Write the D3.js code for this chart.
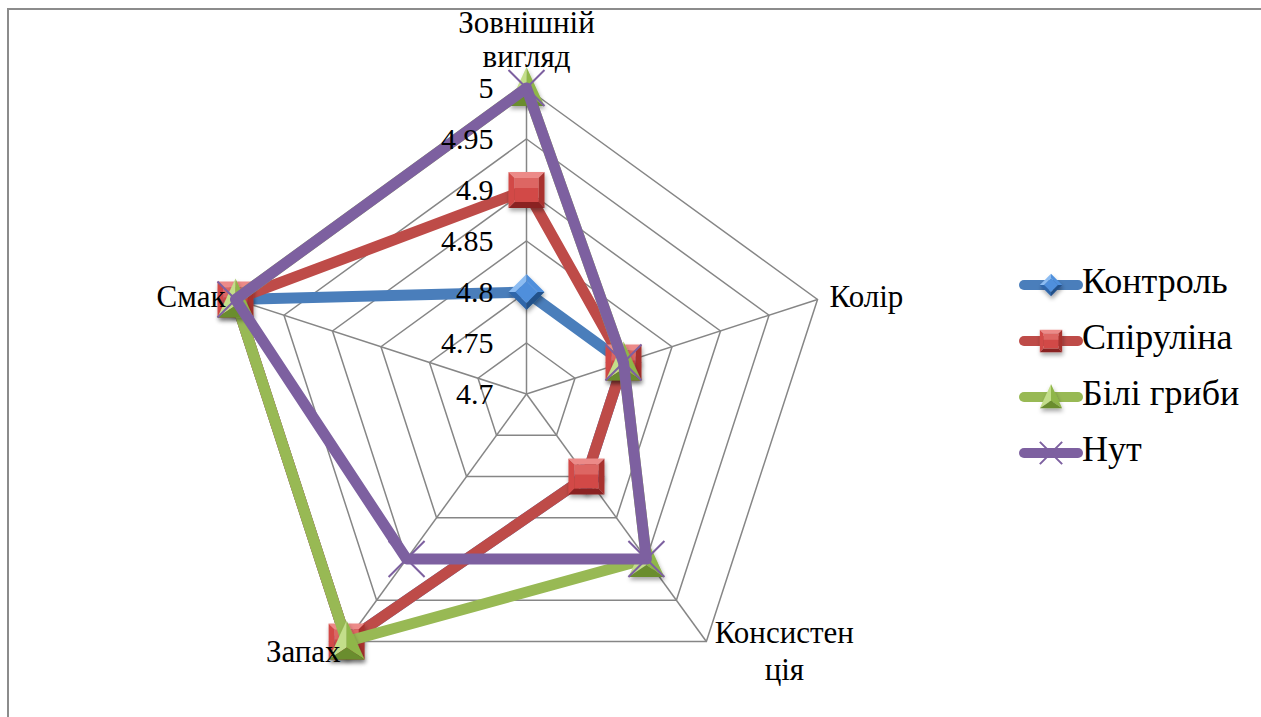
<!DOCTYPE html>
<html>
<head>
<meta charset="utf-8">
<script src="https://cdn.jsdelivr.net/npm/d3@7/dist/d3.min.js"></script>
<style>
  html, body { margin: 0; padding: 0; background: #fff; }
  svg { display: block; }
</style>
</head>
<body>
<svg id="chart" width="1261" height="717"></svg>
<script>
// Criteria (axes), clockwise from the top
const axes = [["Зовнішній", "вигляд"], ["Колір"], ["Консистен", "ція"], ["Запах"], ["Смак"]];
// Tick labels on the radial axis
const ticks = [4.7, 4.75, 4.8, 4.85, 4.9, 4.95, 5];
// Series names and their scores per criterion
const seriesNames = ["Контроль", "Спіруліна", "Білі гриби", "Нут"];
const control   = [4.8, 4.8, 4.8, 5, 5];
const spirulina = [4.9, 4.8, 4.8, 5, 5];
const mushrooms = [5, 4.8, 4.9, 5, 5];
const chickpea  = [5, 4.8, 4.9, 4.9, 5];

const seriesValues = [control, spirulina, mushrooms, chickpea];
const colors = ["#4a7ebb", "#be4b48", "#98b954", "#7d60a0"];
const shades = [
  { light: "#8cbcf2", mid: "#4f8fdc", dark: "#2e66aa", darker: "#22518a" },
  { light: "#ec8a88", mid: "#d24a47", dark: "#a8302e", darker: "#8a2422" },
  { light: "#c3de8a", mid: "#8fb64a", dark: "#6a8d2f", darker: "#557326" },
  { light: "#a58fc6", mid: "#7d60a0", dark: "#5e4680", darker: "#4a3666" }
];
const shapes = ["diamond", "square", "triangle", "cross"];
const FONT = "'Liberation Serif', 'Times New Roman', Tinos, 'DejaVu Serif', serif";

const svg = d3.select("#chart");
const cx = 526.5, cy = 394, R = 306;

const r = d3.scaleLinear().domain([4.7, 5]).range([0, R]);
const angle = d3.scaleLinear().domain([0, axes.length]).range([0, 2 * Math.PI]);
const pt = (i, v) => [cx + r(v) * Math.sin(angle(i)), cy - r(v) * Math.cos(angle(i))];

const defs = svg.append("defs");
const shadow = defs.append("filter").attr("id", "shadow")
  .attr("x", "-50%").attr("y", "-50%").attr("width", "200%").attr("height", "200%");
shadow.append("feDropShadow").attr("dx", 1).attr("dy", 3).attr("stdDeviation", 2)
  .attr("flood-color", "#000").attr("flood-opacity", 0.35);

// Frame
svg.append("path").attr("d", "M8,717V9H1261")
  .attr("fill", "none").attr("stroke", "#8c8c8c").attr("stroke-width", 2);

// Grid rings and spokes
const grid = svg.append("g").attr("stroke", "#868686").attr("stroke-width", 1.5).attr("fill", "none");
ticks.slice(1).forEach(t => {
  grid.append("path").attr("d", d3.line()(d3.range(axes.length).map(i => pt(i, t))) + "Z");
});
axes.forEach((a, i) => {
  grid.append("path").attr("d", d3.line()([pt(i, 4.7), pt(i, 5)]));
});

const textG = (parent, size) => parent.append("g").attr("font-family", FONT).attr("font-size", size).attr("fill", "#000");

// Bevelled marker shapes
function drawMarker(g, shape, sh, color, k) {
  const m = g.append("g");
  const poly = (pts, fill) => m.append("polygon")
    .attr("points", pts.map(q => q.map(v => v * k).join(",")).join(" ")).attr("fill", fill);
  if (shape === "square") {
    const s = 18, b = 6;
    m.attr("filter", "url(#shadow)");
    poly([[-s,-s],[s,-s],[s-b,-s+b],[-s+b,-s+b]], sh.light);
    poly([[-s,-s],[-s+b,-s+b],[-s+b,s-b],[-s,s]], sh.mid);
    poly([[s,-s],[s,s],[s-b,s-b],[s-b,-s+b]], sh.dark);
    poly([[-s,s],[-s+b,s-b],[s-b,s-b],[s,s]], sh.darker);
    poly([[-s+b,-s+b],[s-b,-s+b],[s-b,s-b],[-s+b,s-b]], sh.mid);
    poly([[-s+b,-s+b],[s-b,-s+b],[s-b,-2],[-s+b,-2]], sh.light).attr("opacity", 0.45);
  } else if (shape === "diamond") {
    const s = 18, b = 7;
    m.attr("filter", "url(#shadow)");
    poly([[0,-s],[-s,0],[-s+b,0],[0,-s+b]], sh.light);
    poly([[0,-s],[s,0],[s-b,0],[0,-s+b]], sh.mid);
    poly([[-s,0],[0,s],[0,s-b],[-s+b,0]], sh.dark);
    poly([[s,0],[0,s],[0,s-b],[s-b,0]], sh.darker);
    poly([[0,-s+b],[s-b,0],[0,s-b],[-s+b,0]], sh.mid);
  } else if (shape === "triangle") {
    m.attr("filter", "url(#shadow)");
    const A = [0,-21], B = [-18,18], C = [18,18], O = [0,6];
    poly([A,B,O], sh.light);
    poly([A,C,O], sh.mid);
    poly([B,C,O], sh.dark);
  } else {
    const s = 18;
    m.append("path").attr("d", `M${-s*k},${-s*k}L${s*k},${s*k}M${s*k},${-s*k}L${-s*k},${s*k}`)
      .attr("stroke", color).attr("stroke-width", 2).attr("fill", "none");
  }
  return m;
}

// Series: line then markers, drawn in order
seriesValues.forEach((vals, si) => {
  const g = svg.append("g");
  const pts = vals.map((v, i) => pt(i, v));
  g.append("path").attr("d", d3.line()(pts) + "Z")
    .attr("fill", "none").attr("stroke", colors[si]).attr("stroke-width", 11)
    .attr("stroke-linejoin", "round");
  pts.forEach(p => {
    drawMarker(g, shapes[si], shades[si], colors[si], 1)
      .attr("transform", `translate(${p[0]},${p[1]})`);
  });
});

// Radial tick labels, on top of the series
const fmt = d3.format("");
textG(svg, 30).selectAll("text").data(ticks).join("text")
  .attr("x", cx - 33)
  .attr("y", d => cy - r(d) + 10)
  .attr("text-anchor", "end")
  .text(d => fmt(d));

// Axis labels, on top of the series
const labelLayout = [
  { anchor: "middle", dx: 0, dy: [-55, -21] },
  { anchor: "start", dx: 12, dy: [8] },
  { anchor: "middle", dx: 78, dy: [1, 38] },
  { anchor: "end", dx: -6, dy: [20] },
  { anchor: "end", dx: -10, dy: [8] }
];
const axisText = textG(svg, 31);
axes.forEach((lines, i) => {
  const p = pt(i, 5), L = labelLayout[i];
  lines.forEach((s, k) => {
    axisText.append("text").attr("x", p[0] + L.dx).attr("y", p[1] + L.dy[k])
      .attr("text-anchor", L.anchor).text(s);
  });
});

// Legend
const legend = svg.append("g");
const legendText = textG(svg, 36);
seriesNames.forEach((name, si) => {
  const y = 285 + si * 56;
  legend.append("line").attr("x1", 1024).attr("x2", 1078).attr("y1", y).attr("y2", y)
    .attr("stroke", colors[si]).attr("stroke-width", 10).attr("stroke-linecap", "round");
  drawMarker(legend, shapes[si], shades[si], colors[si], 0.62)
    .attr("transform", `translate(1051,${y})`);
  legendText.append("text").attr("x", 1082).attr("y", y + 8).text(name);
});
</script>
</body>
</html>
